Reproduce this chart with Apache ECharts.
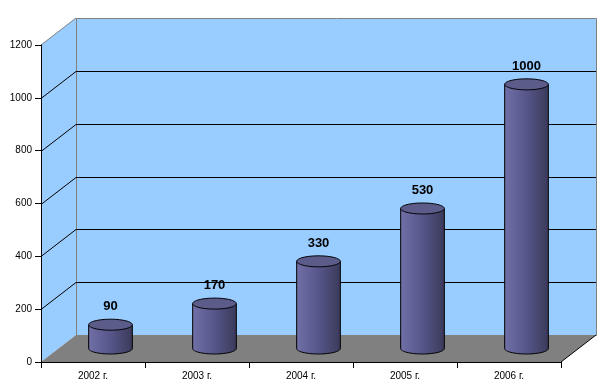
<!DOCTYPE html>
<html><head><meta charset="utf-8">
<script src="https://cdn.jsdelivr.net/npm/echarts@6/dist/echarts.min.js"></script>
<style>html,body{margin:0;padding:0;background:#fff}#c{width:609px;height:390px}</style>
</head><body><div id="c"></div>
<script>
// ---- data ----
const categories = ['2002 г.', '2003 г.', '2004 г.', '2005 г.', '2006 г.'];
const values = [90, 170, 330, 530, 1000];
const yTicks = [0, 200, 400, 600, 800, 1000, 1200];

// ---- style constants ----
const DX = 35, DY = -27;
const FONT = '"Liberation Sans", Arial, sans-serif';

function ellipsePts(cx, cy, rx, ry) {
  const pts = [];
  for (let k = 0; k < 72; k++) {
    const a = k / 72 * Math.PI * 2;
    pts.push([cx + rx * Math.cos(a), cy + ry * Math.sin(a)]);
  }
  return pts;
}

function renderFrame(params, api) {
  const cs = params.coordSys;
  const xL = cs.x, xR = cs.x + cs.width;
  const y0 = api.coord([0, yTicks[0]])[1];
  const yT = api.coord([0, yTicks[yTicks.length - 1]])[1];
  const ch = [];
  ch.push({ type: 'polygon', shape: { points: [[xL, yT], [xL + DX, yT + DY], [xL + DX, y0 + DY], [xL, y0]] }, style: { fill: '#99CCFF' } });
  ch.push({ type: 'rect', shape: { x: xL + DX + 0.5, y: yT + DY + 0.5, width: cs.width, height: y0 - yT }, style: { fill: '#99CCFF', stroke: '#808080', lineWidth: 1 } });
  ch.push({ type: 'polygon', shape: { points: [[xL, y0], [xL + DX, y0 + DY], [xR + DX, y0 + DY], [xR, y0]] }, style: { fill: '#808080' } });
  for (let k = 1; k < yTicks.length - 1; k++) {
    const yv = Math.round(api.coord([0, yTicks[k]])[1]) + 0.5;
    ch.push({ type: 'line', shape: { x1: xL + DX, y1: yv + DY, x2: xR + DX, y2: yv + DY }, style: { stroke: '#000', lineWidth: 1 } });
    ch.push({ type: 'line', shape: { x1: xL, y1: yv, x2: xL + DX, y2: yv + DY }, style: { stroke: '#000', lineWidth: 1 } });
  }
  ch.push({ type: 'line', shape: { x1: xL, y1: yT, x2: xL + DX, y2: yT + DY }, style: { stroke: '#808080', lineWidth: 1 } });
  ch.push({ type: 'line', shape: { x1: xR, y1: y0, x2: xR + DX, y2: y0 + DY }, style: { stroke: '#000', lineWidth: 1 } });
  return { type: 'group', children: ch };
}

function renderCyl(params, api) {
  const i = api.value(0), v = api.value(1);
  const base = api.coord([i, 0]);
  const top = api.coord([i, v]);
  const bw = api.size([1, 0])[0];
  const rx = bw * 0.21, ry = 5.5;
  const cx = base[0] + DX / 2, yb = base[1] + DY / 2, yt = top[1] + DY / 2;
  const grad = new echarts.graphic.LinearGradient(0, 0, 1, 0, [
    { offset: 0, color: '#7070a8' }, { offset: 0.5, color: '#56568a' }, { offset: 1, color: '#3a3a5a' }
  ]);
  return {
    type: 'group', children: [
      { type: 'polygon', shape: { points: ellipsePts(cx, yb, rx, ry) }, style: { fill: grad, stroke: '#000', lineWidth: 1 } },
      { type: 'rect', shape: { x: cx - rx, y: yt, width: 2 * rx, height: yb - yt }, style: { fill: grad } },
      { type: 'line', shape: { x1: cx - rx, y1: yt, x2: cx - rx, y2: yb }, style: { stroke: '#000', lineWidth: 1 } },
      { type: 'line', shape: { x1: cx + rx, y1: yt, x2: cx + rx, y2: yb }, style: { stroke: '#000', lineWidth: 1 } },
      { type: 'polygon', shape: { points: ellipsePts(cx, yt, rx, ry) }, style: { fill: '#5c5c8a', stroke: '#000', lineWidth: 1 } },
      { type: 'text', style: { text: String(v), x: cx, y: yt - 18, align: 'center', verticalAlign: 'middle', fontSize: 13, fontWeight: 'bold', fontFamily: FONT, fill: '#000' } }
    ]
  };
}

const chart = echarts.init(document.getElementById('c'), null, { renderer: 'canvas' });
chart.setOption({
  animation: false,
  backgroundColor: '#fff',
  grid: { left: 41, right: 48, top: 45, bottom: 28 },
  xAxis: {
    type: 'category', data: categories, z: 10,
    axisLine: { show: true, lineStyle: { color: '#000', width: 1 } },
    axisTick: { show: true, length: 6, interval: 0, lineStyle: { color: '#000' } },
    axisLabel: { color: '#000', fontSize: 10, fontFamily: FONT, margin: 9, interval: 0 },
    splitLine: { show: false }
  },
  yAxis: {
    type: 'value', min: yTicks[0], max: yTicks[yTicks.length - 1], interval: yTicks[1] - yTicks[0], z: 10,
    axisLine: { show: true, lineStyle: { color: '#000', width: 1 } },
    axisTick: { show: true, length: 6, lineStyle: { color: '#000' } },
    axisLabel: { color: '#000', fontSize: 10, fontFamily: FONT, margin: 9, formatter: v => String(v) },
    splitLine: { show: false }
  },
  series: [
    { type: 'custom', z: 1, renderItem: renderFrame, data: [[0, 0]], silent: true, clip: false },
    { type: 'custom', z: 3, renderItem: renderCyl, data: values.map((v, i) => [i, v]), silent: true, clip: false }
  ]
});
</script>
</body></html>
